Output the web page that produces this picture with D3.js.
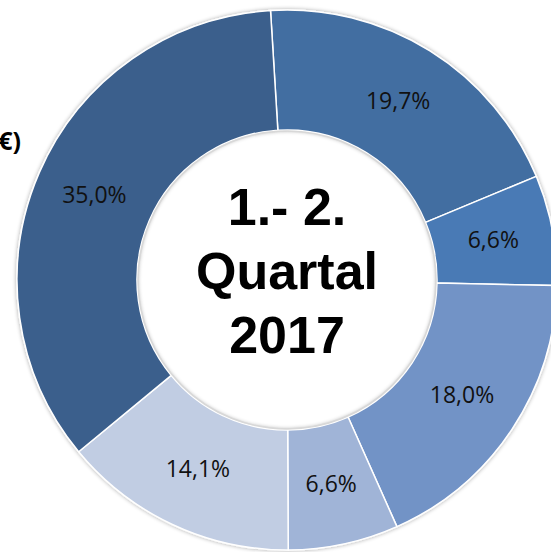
<!DOCTYPE html>
<html>
<head>
<meta charset="utf-8">
<script src="https://cdn.jsdelivr.net/npm/d3@7"></script>
<style>
  html, body { margin: 0; padding: 0; background: #fff; overflow: hidden; }
  svg { display: block; }
</style>
</head>
<body>
<div id="chart"></div>
<script>
// slice values (percent), in drawing order clockwise from the top
var categories = ["A", "B", "C", "D", "E", "F"];
var values = [19.7, 6.6, 18.0, 6.6, 14.1, 35.0];
var labels = ["19,7%", "6,6%", "18,0%", "6,6%", "14,1%", "35,0%"];
var colors = ["#436ea1", "#4a7ab5", "#7293c6", "#a0b4d7", "#c1cde3", "#3b5f8c"];
var centerLines = ["1.- 2.", "Quartal", "2017"];

var width = 551, height = 552;
var cx = 287, cy = 280;
var outerR = 270, innerR = 150;
var startDeg = -3.5;

var svg = d3.select("#chart").append("svg")
  .attr("width", width)
  .attr("height", height);

// soft shadow like the office chart
var defs = svg.append("defs");
var filter = defs.append("filter")
  .attr("id", "shadow")
  .attr("x", "-10%").attr("y", "-10%")
  .attr("width", "120%").attr("height", "120%");
filter.append("feGaussianBlur")
  .attr("in", "SourceAlpha")
  .attr("stdDeviation", 2)
  .attr("result", "blur");
filter.append("feOffset")
  .attr("in", "blur")
  .attr("dx", 0).attr("dy", 0)
  .attr("result", "offsetBlur");
filter.append("feComponentTransfer")
  .attr("in", "offsetBlur")
  .attr("result", "soft")
  .append("feFuncA").attr("type", "linear").attr("slope", 0.35);
var merge = filter.append("feMerge");
merge.append("feMergeNode").attr("in", "soft");
merge.append("feMergeNode").attr("in", "SourceGraphic");

var start = startDeg * Math.PI / 180;
var pie = d3.pie()
  .sort(null)
  .startAngle(start)
  .endAngle(start + 2 * Math.PI)
  .value(function(d) { return d; });

var arc = d3.arc()
  .innerRadius(innerR)
  .outerRadius(outerR);

var labelArc = d3.arc()
  .innerRadius((innerR + outerR) / 2)
  .outerRadius((innerR + outerR) / 2);

var g = svg.append("g")
  .attr("transform", "translate(" + cx + "," + cy + ")");

var arcs = pie(values);

g.append("g")
  .style("filter", "url(#shadow)")
  .selectAll("path")
  .data(arcs)
  .enter().append("path")
  .attr("d", arc)
  .attr("fill", function(d, i) { return colors[i]; })
  .attr("stroke", "#fff")
  .attr("stroke-width", 1.5)
  .attr("stroke-linejoin", "round");

// inner shadow ring on the hole edge
g.append("circle")
  .attr("r", innerR - 1)
  .attr("fill", "none")
  .attr("stroke", "#d8d8d8")
  .attr("stroke-width", 1.5);

g.selectAll("text.lbl")
  .data(arcs)
  .enter().append("text")
  .attr("class", "lbl")
  .attr("transform", function(d) { return "translate(" + labelArc.centroid(d) + ")"; })
  .attr("text-anchor", "middle")
  .attr("dy", "0.3em")
  .style("font-family", "'Open Sans', 'Noto Sans', sans-serif")
  .style("font-size", "23px")
  .style("fill", "#111")
  .text(function(d, i) { return labels[i]; });

// centre title
var title = g.append("text")
  .attr("text-anchor", "middle")
  .style("font-family", "'Liberation Sans', Arial, sans-serif")
  .style("font-weight", "bold")
  .style("font-size", "52px")
  .style("fill", "#000");
title.selectAll("tspan")
  .data(centerLines)
  .enter().append("tspan")
  .attr("x", 0)
  .attr("y", function(d, i) { return -55 + i * 64; })
  .text(function(d) { return d; });

// cut-off axis title fragment at the left edge
svg.append("text")
  .attr("x", 21)
  .attr("y", 150)
  .attr("text-anchor", "end")
  .style("font-family", "'Open Sans', 'Noto Sans', sans-serif")
  .style("font-weight", "bold")
  .style("font-size", "25px")
  .style("fill", "#000")
  .text("€)");
</script>
</body>
</html>
